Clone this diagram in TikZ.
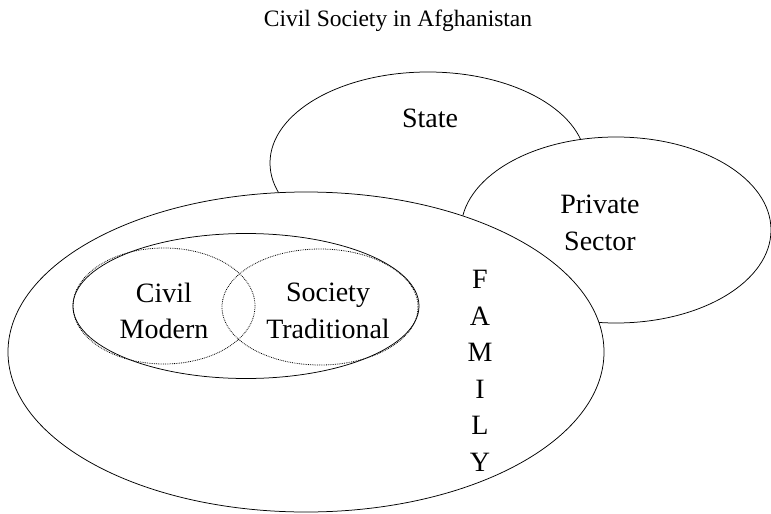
\documentclass[tikz,border=0pt]{standalone}
\usepackage{fontspec}
\setmainfont{Liberation Serif}
\usetikzlibrary{shapes.geometric}

\begin{document}
\begin{tikzpicture}[x=1pt, y=-1pt,
    region/.style={draw, ellipse, inner sep=0pt, line width=0.75pt},
    part/.style={draw, ellipse, inner sep=0pt, dash pattern=on 0.8pt off 1pt, line width=0.8pt},
    word/.style={font=\fontsize{28}{36.5}\selectfont, align=center}]
    \useasboundingbox (0,0) rectangle (771,514);

    \node[font=\fontsize{23.5}{28}\selectfont, anchor=base] (title) at (398,27) {Civil Society in Afghanistan};

    % outer regions, later ones cover the earlier ones
    \node[region, fill=white, minimum width=316pt, minimum height=182pt] (state) at (428,163) {};
    \node[region, fill=white, minimum width=310pt, minimum height=186pt] (private) at (616,230) {};
    \node[region, fill=white, minimum width=596pt, minimum height=320pt] (family) at (306,352) {};

    % civil society and its two halves
    \node[region, minimum width=346pt, minimum height=145pt] (civil) at (246,306) {};
    \node[part, minimum width=182pt, minimum height=116pt] (modern) at (164,306) {};
    \node[part, minimum width=196pt, minimum height=116pt] (traditional) at (320,307) {};

    \node[word] (statetext) at (430,118) {State};
    \node[word] (privatetext) at (600,223) {Private\\Sector};
    \node[word] (moderntext) at (164,311) {Civil\\Modern};
    \node[word] (traditionaltext) at (328,311) {Society\\Traditional};
    \node[word] (familytext) at (480,371) {F\\A\\M\\I\\L\\Y};
\end{tikzpicture}
\end{document}
